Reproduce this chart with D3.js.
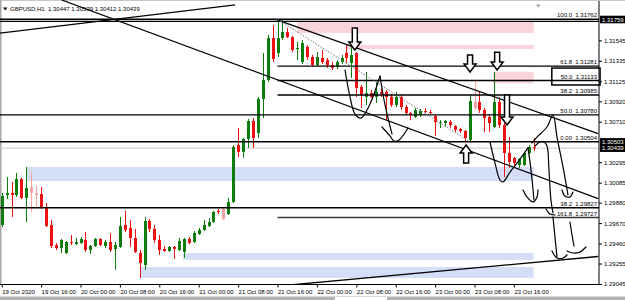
<!DOCTYPE html>
<html>
<head>
<meta charset="utf-8">
<script src="https://cdn.jsdelivr.net/npm/d3@7"></script>
<style>
    body { margin: 0; background: #fff; }
    svg { display: block; font-family: "Liberation Sans", Arial, sans-serif; }
</style>
</head>
<body>
<div id="chart"></div>
<script>
// ---- data ----
const symbolTitle = "GBPUSD,H1  1.30447 1.30539 1.30412 1.30439";

const timeTickBars = [0, 8, 16, 24, 32, 40, 48, 56, 64, 72, 80, 88, 96, 104];
const timeLabels = ["19 Oct 2020", "19 Oct 16:00", "20 Oct 00:00", "20 Oct 08:00", "20 Oct 16:00",
    "21 Oct 00:00", "21 Oct 08:00", "21 Oct 16:00", "22 Oct 00:00", "22 Oct 08:00",
    "22 Oct 16:00", "23 Oct 00:00", "23 Oct 08:00", "23 Oct 16:00"];

const priceTicks = [1.31545, 1.31335, 1.31125, 1.30920, 1.30710, 1.30295, 1.30085,
    1.29880, 1.29670, 1.29460, 1.29255, 1.29045];

const opens = [
    1.29651,1.29958,1.29979,1.29958,1.30122,1.29928,1.30040,1.29979,1.29969,1.29825,
    1.29651,1.29445,1.29415,1.29363,1.29476,1.29456,1.29466,1.29497,1.29394,1.29435,
    1.29507,1.29435,1.29476,1.29404,1.29425,1.29651,1.29620,1.29517,1.29363,1.29240,
    1.29692,1.29610,1.29497,1.29404,1.29384,1.29425,1.29394,1.29374,1.29507,1.29476,
    1.29558,1.29599,1.29640,1.29681,1.29794,1.29815,1.29763,1.29887,1.30471,1.30400,
    1.30533,1.30717,1.30594,1.30943,1.31138,1.31569,1.31415,1.31569,1.31631,1.31579,
    1.31456,1.31323,1.31477,1.31374,1.31292,1.31364,1.31343,1.31292,1.31272,1.31323,
    1.31415,1.31313,1.31415,1.31066,1.30964,1.31005,1.30964,1.31015,1.31015,1.30964,
    1.30882,1.30964,1.30861,1.30800,1.30759,1.30779,1.30820,1.30810,1.30769,1.30697,
    1.30697,1.30707,1.30666,1.30635,1.30615,1.30523,1.30912,1.30912,1.30830,1.30759,
    1.30656,1.30912,1.30676,1.30389,1.30338,1.30266,1.30266,1.30389,1.30447];
const highs = [
    1.29979,1.30143,1.30092,1.30184,1.30133,1.30246,1.30184,1.30061,1.30040,1.29876,
    1.29702,1.29466,1.29507,1.29486,1.29548,1.29517,1.29527,1.29579,1.29445,1.29517,
    1.29517,1.29497,1.29568,1.29476,1.29733,1.29794,1.29702,1.29610,1.29394,1.29733,
    1.29712,1.29651,1.29548,1.29435,1.29435,1.29435,1.29517,1.29517,1.29527,1.29589,
    1.29620,1.29702,1.29722,1.29794,1.29815,1.29825,1.29928,1.30471,1.30646,1.30543,
    1.30738,1.30748,1.30964,1.31415,1.31600,1.31703,1.31762,1.31754,1.31672,1.31590,
    1.31528,1.31549,1.31497,1.31395,1.31424,1.31446,1.31364,1.31323,1.31343,1.31395,
    1.31497,1.31497,1.31424,1.31087,1.31220,1.31035,1.31118,1.31046,1.31035,1.30995,
    1.31015,1.30984,1.30882,1.30810,1.30851,1.30841,1.30851,1.30830,1.30779,1.30727,
    1.30727,1.30727,1.30676,1.30646,1.30625,1.30984,1.31138,1.31015,1.30851,1.30779,
    1.31220,1.30964,1.30697,1.30553,1.30348,1.30338,1.30400,1.30471,1.30539];
const lows = [
    1.29630,1.29917,1.29733,1.29938,1.29917,1.29681,1.29784,1.29835,1.29815,1.29630,
    1.29415,1.29394,1.29363,1.29353,1.29445,1.29445,1.29456,1.29374,1.29353,1.29425,
    1.29435,1.29415,1.29374,1.29189,1.29415,1.29579,1.29425,1.29363,1.29107,1.29189,
    1.29579,1.29466,1.29343,1.29374,1.29374,1.29302,1.29384,1.29312,1.29456,1.29466,
    1.29548,1.29589,1.29630,1.29671,1.29763,1.29702,1.29753,1.29876,1.30348,1.30338,
    1.30441,1.30441,1.30543,1.30748,1.31118,1.31323,1.31374,1.31549,1.31569,1.31424,
    1.31343,1.31302,1.31343,1.31272,1.31282,1.31302,1.31261,1.31241,1.31251,1.31302,
    1.31313,1.31159,1.30964,1.30851,1.30882,1.30954,1.30902,1.30964,1.30727,1.30861,
    1.30861,1.30830,1.30779,1.30727,1.30748,1.30759,1.30800,1.30789,1.30564,1.30646,
    1.30656,1.30646,1.30605,1.30594,1.30512,1.30504,1.30830,1.30800,1.30605,1.30605,
    1.30646,1.30646,1.30143,1.30235,1.30235,1.30235,1.30256,1.30379,1.30412];
const closes = [
    1.29948,1.29979,1.29958,1.30122,1.29928,1.30030,1.29979,1.29958,1.29825,1.29640,
    1.29435,1.29415,1.29497,1.29476,1.29466,1.29476,1.29507,1.29394,1.29435,1.29507,
    1.29445,1.29476,1.29394,1.29445,1.29640,1.29599,1.29517,1.29374,1.29261,1.29692,
    1.29610,1.29497,1.29394,1.29384,1.29425,1.29404,1.29486,1.29507,1.29466,1.29568,
    1.29599,1.29651,1.29681,1.29784,1.29784,1.29712,1.29887,1.30451,1.30400,1.30533,
    1.30717,1.30543,1.30943,1.31138,1.31569,1.31354,1.31569,1.31631,1.31579,1.31446,
    1.31467,1.31518,1.31374,1.31292,1.31374,1.31323,1.31292,1.31261,1.31323,1.31364,
    1.31364,1.31395,1.31056,1.30984,1.31005,1.30964,1.31015,1.30995,1.30964,1.30882,
    1.30964,1.30861,1.30800,1.30779,1.30830,1.30820,1.30810,1.30800,1.30707,1.30707,
    1.30717,1.30676,1.30625,1.30615,1.30543,1.30923,1.30851,1.30830,1.30748,1.30697,
    1.30912,1.30676,1.30389,1.30297,1.30287,1.30328,1.30389,1.30451,1.30439];
const fadedBars = [6, 7, 45, 96];

// horizontal levels
const fullLevels = [1.31762, 1.31740, 1.30780, 1.30504, 1.29827];
const fibStartBar = 56;
const fibLevels = [1.31281, 1.31133, 1.30985, 1.29727];
const fibNames = ["100.0", "61.8", "50.0", "38.2", "50.0", "0.00", "38.2", "161.8"];
const fibNamePrices = [1.31762, 1.31281, 1.31133, 1.30985, 1.30780, 1.30504, 1.29827, 1.29727];
const labelBox = [111.7, 121.5, 1.31261, 1.31087];

// zones [bar from, bar to, price top, price bottom]
const pinkZones = [[60, 108, 1.31740, 1.31620], [70, 108, 1.31497, 1.31456], [99.8, 108, 1.31223, 1.31104]];
const blueZones = [[5.1, 108, 1.30246, 1.30102], [36.8, 108, 1.29363, 1.29291], [28.1, 108, 1.29220, 1.29107]];

// trend lines [bar1, price1, bar2, price2]
const trendLines = [[-0.35, 1.31620, 47.4, 1.31908], [12.18, 1.31959, 121.1, 1.29922],
    [55.9, 1.31754, 121.1, 1.30589], [57.5, 1.29030, 121.1, 1.29327]];
const fibTrend = [56, 1.31762, 95, 1.30504];

// hollow arrows
const arrowBars = [71.7, 95.1, 100.6, 102.6, 94.3];
const arrowTails = [1.31672, 1.31395, 1.31424, 1.30984, 1.30287];
const arrowTips = [1.31446, 1.31220, 1.31241, 1.30676, 1.30471];

// hand drawn strokes [bar, price]
const sketches = [
    [[69.71,1.31241],[70.52,1.31015],[71.74,1.30789],[72.96,1.30748],[74.78,1.30892],[76.81,1.31179]],
    [[76.81,1.31179],[77.83,1.30882],[79.25,1.30584]],
    [[77.21,1.30656],[78.84,1.30564],[79.65,1.30512],[80.67,1.30523],[82.49,1.30646]],
    [[99.15,1.30502],[100.16,1.30287],[101.18,1.30112],[101.79,1.30092],[103.21,1.30194],[104.83,1.30297],[106.86,1.30441]],
    [[106.86,1.30441],[107.47,1.30215],[108.08,1.29907]],
    [[105.85,1.30010],[106.66,1.29938],[107.88,1.29887],[108.69,1.29938],[108.89,1.30010]],
    [[107.67,1.30492],[108.69,1.30553],[110.72,1.30656],[111.94,1.30779],[112.75,1.30553],[113.97,1.30246],[114.98,1.29958]],
    [[113.77,1.30010],[114.38,1.29948],[115.39,1.29938],[115.99,1.29989]],
    [[108.28,1.30461],[109.30,1.30502],[110.11,1.30502],[110.72,1.30461],[111.12,1.30215],[111.52,1.29907],[111.94,1.29774]],
    [[110.52,1.29815],[111.33,1.29763],[112.34,1.29753]],
    [[111.94,1.29733],[112.34,1.29527],[112.75,1.29322]],
    [[111.73,1.29384],[112.75,1.29312],[113.97,1.29312],[114.78,1.29343]],
    [[115.39,1.29681],[115.80,1.29548],[116.20,1.29435]],
    [[114.78,1.29384],[115.99,1.29363],[117.41,1.29374],[118.64,1.29425]]
];

const markerPrices = [1.31759, 1.30503, 1.30439];


class CandleChartVis {
    constructor(parentElement) {
        this.parentElement = parentElement;
        this.initVis();
    }

    initVis() {
        let vis = this;
        vis.width = 625;
        vis.height = 300;
        vis.axisX = 599;
        vis.axisY = 284.5;

        vis.svg = d3.select("#" + vis.parentElement).append("svg")
            .attr("width", vis.width)
            .attr("height", vis.height);

        vis.x = d3.scaleLinear().domain([0, opens.length - 1]).range([1.7, 533.6]);
        vis.y = d3.scaleLinear().domain([1.29045, 1.31759]).range([284, 19.5]);

        vis.svg.append("clipPath").attr("id", "plotClip")
            .append("rect").attr("x", 0).attr("y", 0)
            .attr("width", vis.axisX).attr("height", vis.axisY);

        // window frame bits
        vis.svg.append("rect").attr("x", 0).attr("y", 296.5).attr("width", vis.width).attr("height", 3.5)
            .attr("fill", "#b4b4b4");
        vis.svg.append("rect").attr("x", 335).attr("y", 297).attr("width", 52).attr("height", 3)
            .attr("fill", "#fff");
        vis.svg.append("line").attr("x1", 0).attr("x2", vis.width).attr("y1", 0.5).attr("y2", 0.5)
            .attr("stroke", "#c8c8c8");
        vis.svg.append("line").attr("x1", 0.75).attr("x2", 0.75).attr("y1", 0).attr("y2", vis.axisY)
            .attr("stroke", "#a8a8a8").attr("stroke-width", 1.5);

        vis.plot = vis.svg.append("g").attr("clip-path", "url(#plotClip)");
        vis.wrangleData();
    }

    wrangleData() {
        let vis = this;
        vis.candles = opens.map((o, i) => ({
            i: i, o: o, h: highs[i], l: lows[i], c: closes[i],
            up: closes[i] >= o, faded: fadedBars.includes(i)
        }));
        vis.updateVis();
    }

    updateVis() {
        let vis = this;
        let x = vis.x, y = vis.y;

        // zones
        const zone = (data, color) => vis.plot.append("g").selectAll("rect")
            .data(data).enter().append("rect")
            .attr("x", d => x(d[0]))
            .attr("width", d => x(d[1]) - x(d[0]))
            .attr("y", d => y(d[2]))
            .attr("height", d => y(d[3]) - y(d[2]))
            .attr("fill", color);
        zone(pinkZones, "#f9d4dc");
        zone(blueZones, "#d4def7");

        // current price line
        vis.plot.append("line")
            .attr("x1", 0).attr("x2", vis.axisX)
            .attr("y1", y(closes[closes.length - 1])).attr("y2", y(closes[closes.length - 1]))
            .attr("stroke", "#c8c8c8").attr("stroke-width", 1);

        // candles
        const colorOf = d => d.up ? (d.faded ? "#8fcf8f" : "#0e7d0e") : (d.faded ? "#f7a3a3" : "#ee1111");
        let candle = vis.plot.append("g").selectAll("g.candle")
            .data(vis.candles).enter().append("g").attr("class", "candle");
        candle.append("line")
            .attr("x1", d => Math.round(x(d.i)) + 0.5)
            .attr("x2", d => Math.round(x(d.i)) + 0.5)
            .attr("y1", d => y(d.h)).attr("y2", d => y(d.l))
            .attr("stroke", colorOf).attr("stroke-width", 1);
        candle.append("rect")
            .attr("x", d => Math.round(x(d.i)) - 1)
            .attr("width", 3)
            .attr("y", d => y(Math.max(d.o, d.c)))
            .attr("height", d => Math.max(1, Math.abs(y(d.o) - y(d.c))))
            .attr("fill", colorOf);

        // horizontal levels
        vis.plot.append("g").selectAll("line")
            .data(fullLevels).enter().append("line")
            .attr("x1", 0).attr("x2", vis.axisX)
            .attr("y1", d => y(d)).attr("y2", d => y(d))
            .attr("stroke", "#000").attr("stroke-width", 1.4);
        vis.plot.append("g").selectAll("line")
            .data(fibLevels).enter().append("line")
            .attr("x1", x(fibStartBar)).attr("x2", vis.axisX)
            .attr("y1", d => y(d)).attr("y2", d => y(d))
            .attr("stroke", (d, i) => i === fibLevels.length - 1 ? "#3a3a3a" : "#000")
            .attr("stroke-width", 1.4);

        // trend lines
        vis.plot.append("g").selectAll("line")
            .data(trendLines).enter().append("line")
            .attr("x1", d => x(d[0])).attr("y1", d => y(d[1]))
            .attr("x2", d => x(d[2])).attr("y2", d => y(d[3]))
            .attr("stroke", "#000").attr("stroke-width", 1.3);
        vis.plot.append("line")
            .attr("x1", x(fibTrend[0])).attr("y1", y(fibTrend[1]))
            .attr("x2", x(fibTrend[2])).attr("y2", y(fibTrend[3]))
            .attr("stroke", "#777").attr("stroke-width", 1).attr("stroke-dasharray", "1.5,1.5");

        // hollow arrows
        const arrowPath = i => {
            let cx = x(arrowBars[i]), t0 = y(arrowTails[i]), t1 = y(arrowTips[i]);
            let s = t1 > t0 ? 1 : -1, hb = t1 - s * 8;
            return `M${cx - 2.5},${t0}L${cx + 2.5},${t0}L${cx + 2.5},${hb}L${cx + 6},${hb}` +
                `L${cx},${t1}L${cx - 6},${hb}L${cx - 2.5},${hb}Z`;
        };
        vis.plot.append("g").selectAll("path")
            .data(arrowBars).enter().append("path")
            .attr("d", (d, i) => arrowPath(i))
            .attr("fill", "#fff").attr("stroke", "#000").attr("stroke-width", 1.5)
            .attr("stroke-linejoin", "miter");

        // hand drawn strokes
        let sketchLine = d3.line().x(d => x(d[0])).y(d => y(d[1])).curve(d3.curveCatmullRom);
        vis.plot.append("g").selectAll("path")
            .data(sketches).enter().append("path")
            .attr("d", sketchLine)
            .attr("fill", "none").attr("stroke", "#000").attr("stroke-width", 1.2)
            .attr("stroke-linecap", "round");

        // box drawn around a fib label
        vis.svg.append("rect")
            .attr("x", x(labelBox[0])).attr("y", y(labelBox[2]))
            .attr("width", x(labelBox[1]) - x(labelBox[0]))
            .attr("height", y(labelBox[3]) - y(labelBox[2]))
            .attr("fill", "none").attr("stroke", "#000").attr("stroke-width", 1.5);

        // fib labels
        vis.svg.append("g").selectAll("text")
            .data(fibNamePrices).enter().append("text")
            .attr("x", 597).attr("y", d => y(d) - 2)
            .attr("text-anchor", "end")
            .style("white-space", "pre")
            .style("font-size", "6px")
            .text((d, i) => `${fibNames[i]}  ${d3.format(".5f")(d)}`);

        // axes frame
        vis.svg.append("line").attr("x1", 0).attr("x2", vis.axisX + 0.5)
            .attr("y1", vis.axisY).attr("y2", vis.axisY).attr("stroke", "#000");
        vis.svg.append("line").attr("x1", vis.axisX).attr("x2", vis.axisX)
            .attr("y1", 1).attr("y2", vis.axisY).attr("stroke", "#000");

        // price axis
        let yAxis = d3.axisRight(y).tickValues(priceTicks)
            .tickFormat(d3.format(".5f")).tickSize(3).tickPadding(2);
        let yg = vis.svg.append("g").attr("transform", `translate(${vis.axisX},0)`).call(yAxis);
        yg.select(".domain").remove();
        yg.selectAll("text").style("font-size", "6px").attr("fill", "#000")
            .style("font-family", "Liberation Sans, Arial, sans-serif");

        // time axis
        let xAxis = d3.axisBottom(x).tickValues(timeTickBars)
            .tickFormat((d, i) => timeLabels[i]).tickSize(3).tickPadding(2);
        let xg = vis.svg.append("g").attr("transform", `translate(0,${vis.axisY})`).call(xAxis);
        xg.select(".domain").remove();
        xg.selectAll("text").style("font-size", "6px").attr("fill", "#000")
            .style("font-family", "Liberation Sans, Arial, sans-serif")
            .attr("text-anchor", "start").attr("x", 0);

        // price markers on the right axis
        let marker = vis.svg.append("g").selectAll("g")
            .data(markerPrices).enter().append("g")
            .attr("transform", d => `translate(${vis.axisX + 1},${y(d)})`);
        marker.append("rect").attr("x", 0).attr("y", -3.8).attr("width", 25).attr("height", 7.6)
            .attr("fill", "#000");
        marker.append("text").attr("x", 2).attr("dy", "0.35em")
            .style("font-size", "6px").attr("fill", "#fff")
            .text(d => d3.format(".5f")(d));

        // header
        vis.svg.append("path").attr("d", "M3,7.5L7.5,7.5L5.25,10.5Z").attr("fill", "#000");
        vis.svg.append("text").attr("x", 10).attr("y", 11)
            .style("white-space", "pre").style("font-size", "6px")
            .text(symbolTitle);
        vis.svg.append("path").attr("d", "M536,4.5L540.5,4.5L538.25,7.5Z").attr("fill", "#a0a0a0");
    }
}

new CandleChartVis("chart");
</script>
</body>
</html>
